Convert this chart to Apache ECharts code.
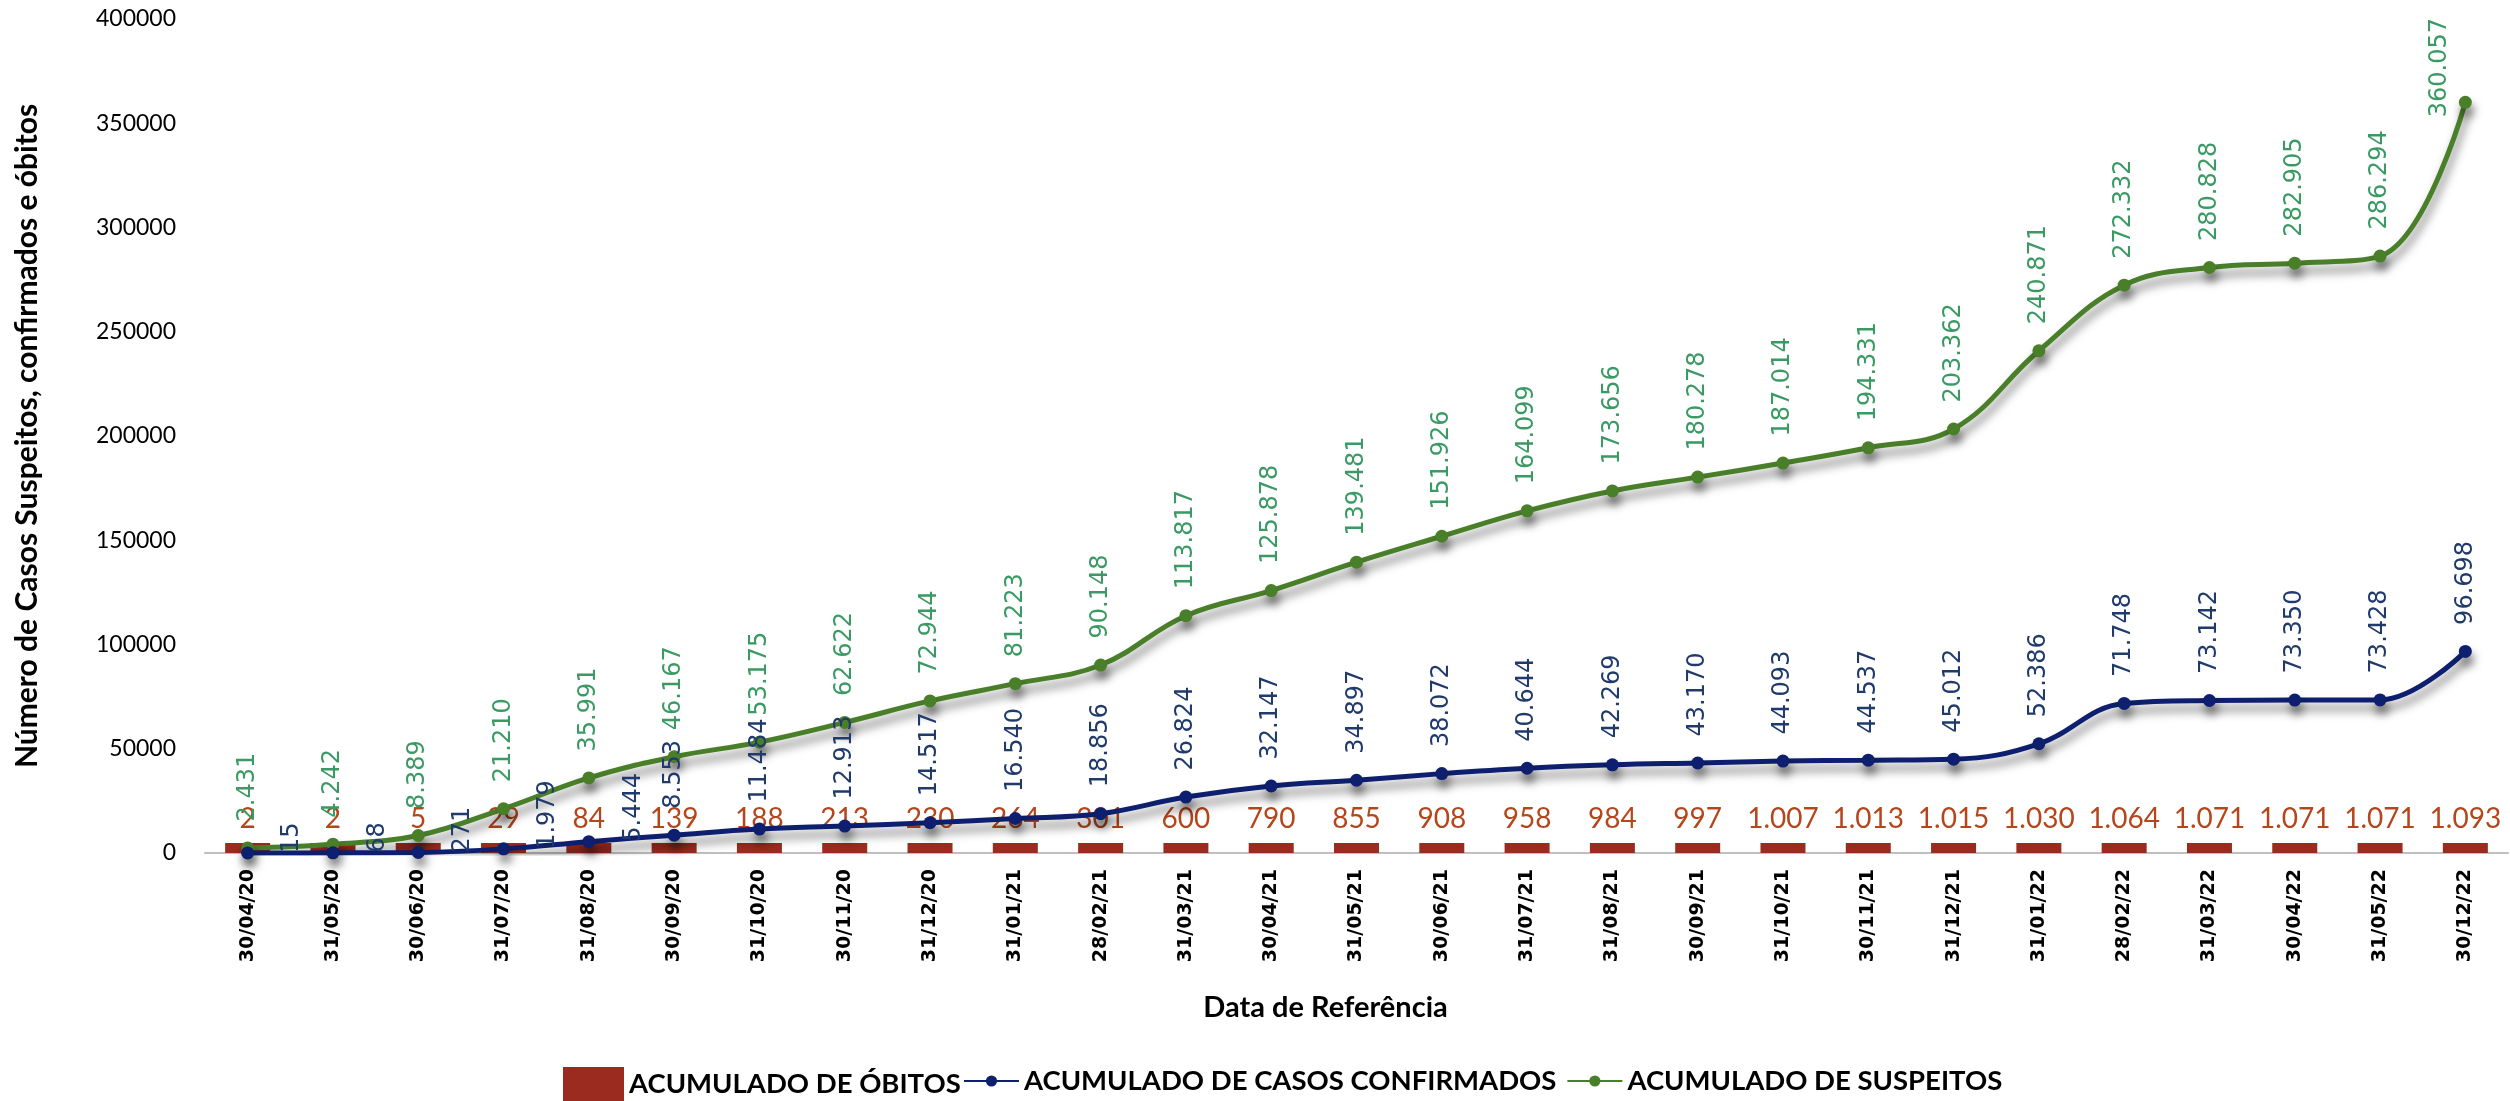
<!DOCTYPE html>
<html>
<head>
<meta charset="utf-8">
<title>Acumulado de casos suspeitos, confirmados e óbitos</title>
<script src="https://cdn.jsdelivr.net/npm/echarts@6/dist/echarts.min.js"></script>
<style>
  html, body { margin: 0; padding: 0; background: #fff; }
  #chart { width: 2510px; height: 1101px; }
</style>
</head>
<body>
<div id="chart"></div>
<script>
// datas de referência (eixo x)
var datas = ['30/04/20', '31/05/20', '30/06/20', '31/07/20', '31/08/20', '30/09/20', '31/10/20',
  '30/11/20', '31/12/20', '31/01/21', '28/02/21', '31/03/21', '30/04/21', '31/05/21', '30/06/21',
  '31/07/21', '31/08/21', '30/09/21', '31/10/21', '30/11/21', '31/12/21', '31/01/22', '28/02/22',
  '31/03/22', '30/04/22', '31/05/22', '30/12/22'];

var obitos = [2, 2, 5, 29, 84, 139, 188, 213, 230, 264, 301, 600, 790, 855, 908, 958, 984, 997,
  1007, 1013, 1015, 1030, 1064, 1071, 1071, 1071, 1093];

var confirmados = [15, 68, 271, 1979, 5444, 8553, 11484, 12913, 14517, 16540, 18856, 26824, 32147,
  34897, 38072, 40644, 42269, 43170, 44093, 44537, 45012, 52386, 71748, 73142, 73350, 73428, 96698];

var suspeitos = [2431, 4242, 8389, 21210, 35991, 46167, 53175, 62622, 72944, 81223, 90148, 113817,
  125878, 139481, 151926, 164099, 173656, 180278, 187014, 194331, 203362, 240871, 272332, 280828,
  282905, 286294, 360057];

// escala do eixo y
var yMin = 0;
var yMax = 400000;
var yStep = 50000;

var sans = 'Lato, sans-serif';

function milhar(v) {
  return String(v).replace(/\B(?=(\d{3})+(?!\d))/g, '.');
}

var sombra = {
  shadowColor: 'rgba(0,0,0,0.5)',
  shadowBlur: 10,
  shadowOffsetX: 2,
  shadowOffsetY: 8
};

var rotulo = {
  show: true,
  rotate: 90,
  align: 'left',
  verticalAlign: 'middle',
  position: 'top',
  distance: 20,
  fontFamily: 'DejaVu Sans',
  fontSize: 24,
  formatter: function (p) { return milhar(p.value); }
};

// primeiros rótulos de confirmados ficam à direita do ponto
var confirmadosData = confirmados.map(function (v, i) {
  if (i < 5) return { value: v, label: { position: 'right', distance: 38 } };
  return v;
});
// último rótulo de suspeitos vai para a esquerda (não cabe acima)
var suspeitosData = suspeitos.map(function (v, i) {
  if (i === suspeitos.length - 1) return { value: v, label: { position: 'left', distance: 19, offset: [-15, 0] } };
  return v;
});

var legendText = { fontFamily: sans, fontWeight: 'bold', fontSize: 27.5, color: '#000' };

var myChart = echarts.init(document.getElementById('chart'));
var option = {
  animation: false,
  backgroundColor: '#fff',
  grid: { left: 205, right: 2, top: 19, bottom: 248 },
  legend: [
    {
      left: 563, top: 1067, padding: 0,
      itemWidth: 61, itemHeight: 34, icon: 'rect',
      data: ['ACUMULADO DE ÓBITOS'],
      textStyle: legendText
    },
    {
      left: 963, top: 1067, padding: 0,
      itemWidth: 55, itemHeight: 14, itemGap: 10,
      data: ['ACUMULADO DE CASOS CONFIRMADOS', 'ACUMULADO DE SUSPEITOS'],
      textStyle: legendText
    }
  ],
  xAxis: {
    type: 'category',
    data: datas,
    name: 'Data de Referência',
    nameLocation: 'middle',
    nameGap: 140,
    nameTextStyle: { fontFamily: sans, fontWeight: 'bold', fontSize: 29, color: '#000', padding: [0, 62, 0, 0] },
    axisLine: { lineStyle: { color: '#bfbfbf', width: 2 } },
    axisTick: { length: 8, lineStyle: { color: '#bfbfbf', width: 2 } },
    axisLabel: {
      interval: 0, rotate: 90, margin: 16,
      fontFamily: 'DejaVu Sans', fontWeight: 'bold', fontSize: 19, color: '#000'
    }
  },
  yAxis: {
    type: 'value',
    min: yMin, max: yMax, interval: yStep,
    name: 'Número de Casos Suspeitos, confirmados e óbitos',
    nameLocation: 'middle',
    nameGap: 163,
    nameTextStyle: { fontFamily: sans, fontWeight: 'bold', fontSize: 30, color: '#000' },
    splitLine: { show: false },
    axisLine: { show: false },
    axisTick: { show: false },
    axisLabel: {
      margin: 29, fontFamily: sans, fontSize: 23, color: '#000',
      formatter: function (v) { return String(v); }
    }
  },
  series: [
    {
      name: 'ACUMULADO DE ÓBITOS',
      type: 'bar',
      data: obitos,
      barWidth: 45,
      barMinHeight: 10,
      itemStyle: { color: '#9b2b1f' },
      label: {
        show: true, position: 'top', distance: 10,
        color: '#b5461c', fontFamily: sans, fontSize: 28,
        formatter: function (p) { return milhar(p.value); }
      },
      z: 1
    },
    {
      name: 'ACUMULADO DE CASOS CONFIRMADOS',
      type: 'line',
      data: confirmadosData,
      smooth: 0.4,
      symbol: 'circle',
      symbolSize: 13,
      lineStyle: Object.assign({ width: 5, color: '#0d1f6e' }, sombra),
      itemStyle: Object.assign({ color: '#0d1f6e' }, sombra),
      label: Object.assign({}, rotulo, { color: '#1f3a6b' }),
      z: 3
    },
    {
      name: 'ACUMULADO DE SUSPEITOS',
      type: 'line',
      data: suspeitosData,
      smooth: 0.4,
      symbol: 'circle',
      symbolSize: 13,
      lineStyle: Object.assign({ width: 5, color: '#4a7f2a' }, sombra),
      itemStyle: Object.assign({ color: '#4a7f2a' }, sombra),
      label: Object.assign({}, rotulo, { color: '#3b9a64' }),
      z: 2
    }
  ]
};

myChart.setOption(option);
window.addEventListener('resize', function () {
  myChart.resize();
});
</script>
</body>
</html>
